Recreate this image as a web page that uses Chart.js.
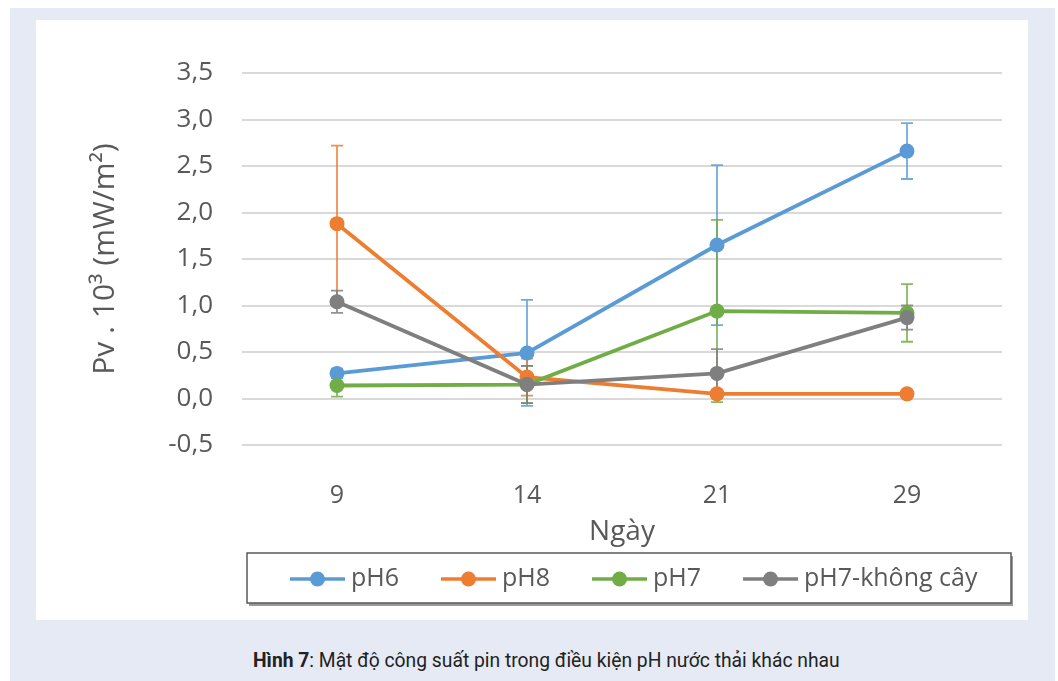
<!DOCTYPE html>
<html lang="vi">
<head>
<meta charset="UTF-8">
<script src="https://cdn.jsdelivr.net/npm/chart.js"></script>
<title>Hình 7</title>
<style>
  body { margin: 0; background: #fff; }
  #bg { position: absolute; left: 10px; top: 8px; width: 1045px; height: 673px; background: #e6eaf5; }
  #panel { position: absolute; left: 36px; top: 20px; width: 992px; height: 600px; background: #fff; }
  #caption { position: absolute; left: 253px; top: 649px; white-space: nowrap;
    font-family: "Liberation Sans Narrow", "Roboto", sans-serif; font-size: 19.3px; color: #222; }
</style>
</head>
<body>
<div id="bg"></div>
<div id="panel"><canvas id="chart" width="992" height="600"></canvas></div>
<div id="caption"><b>Hình 7</b>: Mật độ công suất pin trong điều kiện pH nước thải khác nhau</div>
<script>
const days = ['9', '14', '21', '29'];
const pH6 = [0.27, 0.49, 1.65, 2.66];
const pH8 = [1.88, 0.23, 0.05, 0.05];
const pH7 = [0.14, 0.15, 0.94, 0.92];
const pH7noPlant = [1.04, 0.15, 0.27, 0.87];
// error bar half-widths
const errPH6 = [0.05, 0.57, 0.86, 0.30];
const errPH8 = [0.84, 0.20, 0.04, 0.02];
const errPH7 = [0.12, 0.20, 0.98, 0.31];
const errNoPlant = [0.12, 0.20, 0.26, 0.13];
const yTicks = [-0.5, 0, 0.5, 1, 1.5, 2, 2.5, 3, 3.5];

const font = '"Open Sans", "Noto Sans", sans-serif';
const textColor = '#595959';

function series(label, data, err, color) {
  return {
    label: label, data: data, err: err,
    borderColor: color, backgroundColor: color,
    borderWidth: 3.8, pointRadius: 7.5, pointHoverRadius: 7.5,
    pointBorderWidth: 0, tension: 0
  };
}

const errorBars = {
  id: 'errorBars',
  beforeDatasetsDraw(chart) {
    const ctx = chart.ctx;
    const y = chart.scales.y;
    chart.data.datasets.forEach((ds, i) => {
      const meta = chart.getDatasetMeta(i);
      ctx.save();
      ctx.strokeStyle = ds.borderColor;
      ctx.globalAlpha = 0.85;
      ctx.lineWidth = 1.8;
      meta.data.forEach((pt, j) => {
        const top = y.getPixelForValue(ds.data[j] + ds.err[j]);
        const bot = y.getPixelForValue(ds.data[j] - ds.err[j]);
        ctx.beginPath();
        ctx.moveTo(pt.x, top); ctx.lineTo(pt.x, bot);
        ctx.moveTo(pt.x - 6, top); ctx.lineTo(pt.x + 6, top);
        ctx.moveTo(pt.x - 6, bot); ctx.lineTo(pt.x + 6, bot);
        ctx.stroke();
      });
      ctx.restore();
    });
  }
};

const boxLegend = {
  id: 'boxLegend',
  afterDraw(chart) {
    const ctx = chart.ctx;
    const bx = 211, by = 533, bw = 764, bh = 50;
    ctx.save();
    ctx.fillStyle = '#9a9a9a';
    ctx.fillRect(bx + 2, by + 3, bw, bh);
    ctx.fillStyle = '#fff';
    ctx.fillRect(bx, by, bw, bh);
    ctx.strokeStyle = '#595959';
    ctx.lineWidth = 1.5;
    ctx.strokeRect(bx, by, bw, bh);
    ctx.font = '25px ' + font;
    ctx.textBaseline = 'middle';
    let x = 254;
    const cy = by + bh / 2 + 1;
    chart.data.datasets.forEach(ds => {
      ctx.strokeStyle = ds.borderColor;
      ctx.fillStyle = ds.borderColor;
      ctx.lineWidth = 3.5;
      ctx.beginPath();
      ctx.moveTo(x, cy); ctx.lineTo(x + 55, cy);
      ctx.stroke();
      ctx.beginPath();
      ctx.arc(x + 27.5, cy, 7.5, 0, Math.PI * 2);
      ctx.fill();
      ctx.fillStyle = textColor;
      ctx.fillText(ds.label, x + 61, cy);
      x += 61 + ctx.measureText(ds.label).width + 42;
    });
    ctx.restore();
  }
};

new Chart(document.getElementById('chart'), {
  type: 'line',
  data: {
    labels: days,
    datasets: [
      series('pH6', pH6, errPH6, '#5b9bd5'),
      series('pH8', pH8, errPH8, '#ed7d31'),
      series('pH7', pH7, errPH7, '#70ad47'),
      series('pH7-không cây', pH7noPlant, errNoPlant, '#7f7f7f')
    ].map((d, i) => Object.assign(d, { order: 3 - i }))
  },
  options: {
    responsive: false,
    animation: false,
    layout: { padding: { top: 53, right: 26, bottom: 75, left: 0 } },
    plugins: { legend: { display: false }, tooltip: { enabled: false } },
    scales: {
      x: {
        offset: true,
        grid: { display: false },
        border: { display: false },
        ticks: { color: textColor, font: { family: font, size: 25 }, padding: 28 },
        title: { display: true, text: 'Ngày', color: textColor, font: { family: font, size: 28 }, padding: { bottom: -4 } },
        afterFit(s) { s.height = 100; }
      },
      y: {
        min: -0.5, max: 3.5,
        afterBuildTicks(s) { s.ticks = yTicks.map(v => ({ value: v })); },
        grid: { color: '#d9d9d9', lineWidth: 2, drawTicks: false },
        border: { display: false },
        ticks: {
          color: textColor, font: { family: font, size: 26 }, padding: 29,
          callback: v => v.toFixed(1).replace('.', ',')
        },
        title: { display: true, text: 'Pv . 10³ (mW/m²)', color: textColor, font: { family: font, size: 30 }, padding: { top: 51 } },
        afterFit(s) { s.width = 206; }
      }
    }
  },
  plugins: [errorBars, boxLegend]
});
</script>
</body>
</html>
